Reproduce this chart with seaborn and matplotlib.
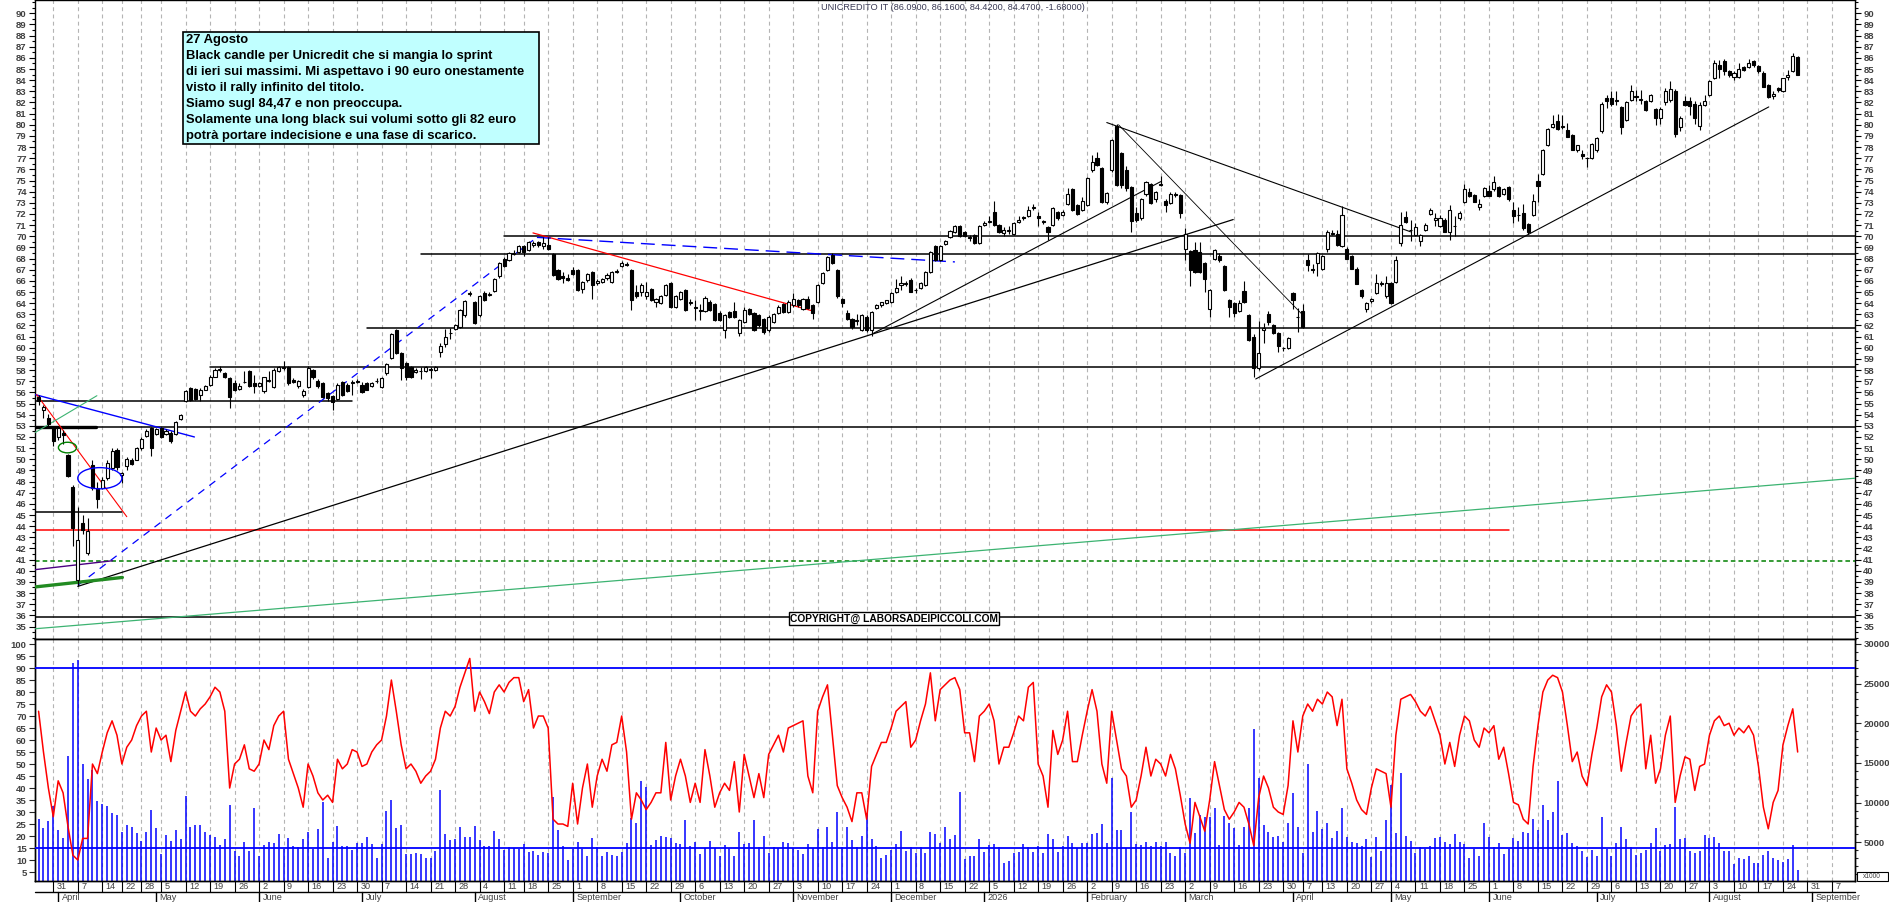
import numpy as np
import pandas as pd
import matplotlib
matplotlib.use("Agg")
import matplotlib.pyplot as plt
import matplotlib.transforms as mtransforms
from matplotlib.patches import Ellipse, Rectangle
from matplotlib.ticker import MultipleLocator
import seaborn as sns

# testi del grafico
TITLE = "UNICREDITO IT (86.0900, 86.1600, 84.4200, 84.4700, -1.68000)"
NOTE_LINES = [
    "27 Agosto",
    "Black candle per Unicredit che si mangia lo sprint",
    "di ieri sui massimi. Mi aspettavo i 90 euro onestamente",
    "visto il rally infinito del titolo.",
    "Siamo sugl 84,47 e non preoccupa.",
    "Solamente una long black sui volumi sotto gli 82 euro",
    "potrà portare indecisione e una fase di scarico.",
]
COPYRIGHT = "COPYRIGHT@ LABORSADEIPICCOLI.COM"

# calendario di borsa
FIRST_DAY = "2025-03-26"
HOLIDAYS = ["2025-04-18", "2025-04-21", "2025-05-01", "2025-08-15", "2025-12-24",
            "2025-12-25", "2025-12-26", "2025-12-31", "2026-01-01", "2026-04-03",
            "2026-04-06", "2026-05-01"]
SKIP_WEEKS = ["2025-12-29"]
MONTH_LABELS = {1: "2026", 2: "February", 3: "March", 4: "April", 5: "May", 6: "June",
                7: "July", 8: "August", 9: "September", 10: "October", 11: "November",
                12: "December"}

# OHLC giornalieri (una riga = una settimana)
opens = [
    55.6, 54.4, 53.7,
    52.9, 52.0, 52.4, 50.4, 47.5,
    39.2, 44.3, 41.6, 49.5, 47.4,
    47.4, 48.3, 49.2, 50.8,
    48.6, 49.4, 49.9, 49.9,
    51.0, 52.1, 52.8, 52.3,
    52.8, 52.3, 52.4, 52.3, 53.6,
    55.2, 56.4, 56.3, 55.8, 56.2,
    56.7, 57.4, 58.0, 57.7, 57.3,
    56.8, 56.3, 56.9, 57.9, 56.8,
    56.6, 56.1, 57.1, 56.5, 57.9,
    58.3, 58.3, 57.1, 56.6, 55.8,
    56.5, 58.0, 57.0, 56.8, 55.9,
    55.7, 55.4, 56.9, 56.7, 56.8,
    57.0, 56.7, 56.8, 56.6, 57.0,
    56.5, 57.7, 59.1, 61.6, 59.5,
    58.6, 58.3, 57.8, 57.9, 57.9,
    58.0, 58.0, 59.6, 60.3, 61.3,
    61.7, 61.9, 62.9, 64.8, 64.1,
    62.9, 64.9, 64.7, 65.1, 66.4,
    68.0, 67.9, 68.4, 68.6,
    69.1, 68.8, 69.2, 69.5, 69.1,
    69.2, 68.4, 67.0, 66.4, 66.3,
    67.0, 67.0, 65.3, 66.1, 66.8,
    65.8, 65.9, 66.3, 65.9, 66.8,
    67.3, 67.5, 67.0, 65.0, 65.0,
    64.6, 65.3, 64.1, 64.0, 64.7,
    65.8, 63.7, 64.4, 65.2, 64.0,
    63.7, 63.4, 63.3, 64.1, 63.9,
    63.1, 61.6, 63.2, 63.3, 61.3,
    62.3, 63.5, 63.1, 62.9, 62.6,
    61.6, 62.3, 63.1, 63.9, 63.2,
    63.8, 64.3, 63.5, 64.4, 63.8,
    64.1, 65.8, 67.0, 68.3, 67.0,
    64.4, 63.1, 62.6, 62.4, 61.6,
    62.8, 61.6, 63.6, 63.8, 64.0,
    64.1, 65.0, 65.6, 65.7, 66.1,
    65.2, 65.4, 65.6, 66.8, 69.1,
    67.9, 69.3, 69.9, 70.4, 70.9,
    70.4, 69.9,
    70.1, 69.4, 71.0,
    71.3, 72.2, 71.0, 70.3, 70.5,
    70.2, 71.3, 71.7, 71.8, 72.5,
    71.8, 71.4, 70.8, 71.0, 72.2,
    71.9, 72.9, 74.2, 72.8, 72.4,
    72.8, 75.9, 77.0, 76.1, 73.1,
    75.9, 79.9, 77.5, 75.9, 74.4,
    72.1, 71.6, 73.8, 74.7, 73.3,
    74.6, 73.2, 73.0, 73.8, 73.7,
    68.9, 68.7, 68.8, 68.6, 67.6,
    63.5, 68.0, 68.2, 67.3, 64.3,
    64.0, 63.3, 65.1, 62.9, 61.0,
    58.2, 61.6, 63.0, 62.0, 61.3,
    60.0, 60.0, 64.9, 62.8,
    63.3, 67.9, 67.1, 67.6,
    67.1, 68.9, 70.3, 70.2, 69.1,
    68.9, 68.2, 67.1, 65.2, 63.5,
    64.2, 64.9, 65.8, 64.6,
    65.8, 65.9, 69.4, 71.7, 70.6,
    70.1, 69.6, 70.6, 72.0, 71.5,
    70.9, 71.5, 70.4, 70.9, 71.6,
    73.1, 74.0, 73.7, 72.6, 73.6,
    74.1, 74.2, 74.4, 73.8, 74.4,
    72.4, 71.9, 72.1, 71.1, 71.9,
    75.0, 75.6, 78.2, 79.8, 80.3,
    79.8, 79.5, 79.1, 77.7, 77.4,
    77.0, 77.0, 77.7, 79.4, 82.4,
    82.4, 82.1, 81.6, 80.4, 82.2,
    82.6, 82.2, 82.1, 82.1, 81.4,
    80.6, 82.0, 82.2, 83.0, 79.8,
    82.1, 82.1, 81.9, 79.9, 81.8,
    82.7, 84.2, 85.4, 85.7, 84.8,
    84.3, 84.3, 85.2, 85.2, 85.7,
    85.3, 84.6, 83.6, 82.6, 83.3,
    83.0, 84.3, 84.8, 86.09,
]
highs = [
    55.8, 54.9, 54.1,
    53.0, 52.9, 52.6, 50.5, 47.7,
    45.7, 45.0, 44.7, 49.9, 48.0,
    48.4, 49.9, 51.0, 51.0,
    48.9, 50.2, 50.1, 51.1,
    52.0, 52.7, 52.9, 52.8,
    52.9, 52.7, 52.5, 53.4, 54.1,
    56.2, 56.5, 56.4, 56.4, 56.7,
    57.6, 58.2, 58.4, 57.8, 57.4,
    57.1, 56.8, 57.9, 58.0, 57.6,
    56.9, 57.4, 57.9, 58.2, 58.4,
    58.8, 58.4, 57.3, 57.1, 56.3,
    58.4, 58.1, 57.2, 56.9, 56.0,
    55.8, 56.8, 57.0, 56.8, 57.1,
    57.2, 56.9, 56.9, 56.9, 57.3,
    57.4, 58.6, 61.3, 61.7, 59.6,
    58.7, 58.4, 58.2, 58.3, 58.4,
    58.3, 58.4, 60.4, 61.7, 61.8,
    62.1, 63.5, 64.3, 65.1, 64.2,
    64.7, 65.1, 65.0, 66.3, 67.7,
    68.1, 68.6, 68.8, 69.2,
    69.2, 69.6, 69.6, 69.6, 69.9,
    69.9, 68.5, 67.1, 66.8, 66.6,
    67.2, 67.1, 66.0, 66.7, 66.9,
    66.2, 66.3, 66.7, 66.9, 67.1,
    67.8, 67.7, 67.1, 65.6, 65.8,
    65.9, 65.4, 64.5, 64.7, 65.7,
    65.9, 64.7, 65.1, 65.3, 64.4,
    64.3, 63.9, 64.6, 64.3, 64.0,
    63.3, 63.0, 63.3, 64.1, 62.6,
    63.7, 63.6, 63.2, 63.0, 62.7,
    62.9, 63.1, 63.8, 64.0, 64.3,
    64.9, 64.4, 64.5, 64.6, 63.9,
    65.7, 66.8, 68.2, 68.5, 67.1,
    64.5, 63.4, 62.7, 63.0, 63.0,
    62.9, 63.3, 63.9, 64.1, 64.3,
    65.0, 66.2, 66.4, 66.0, 66.3,
    65.4, 65.9, 66.9, 68.7, 69.2,
    69.2, 69.7, 70.6, 71.0, 71.0,
    70.5, 70.1,
    70.2, 71.0, 71.4,
    71.8, 73.2, 71.1, 70.8, 70.9,
    71.3, 71.8, 71.8, 72.7, 72.9,
    72.2, 71.5, 70.9, 72.6, 72.3,
    72.4, 74.3, 74.3, 72.9, 73.5,
    75.3, 77.3, 77.6, 76.2, 74.0,
    78.7, 80.1, 77.6, 76.3, 74.5,
    72.6, 73.4, 75.0, 74.8, 74.1,
    75.4, 73.3, 74.0, 74.0, 73.8,
    70.7, 68.8, 69.5, 69.5, 67.7,
    65.3, 68.9, 68.5, 67.4, 64.4,
    64.1, 64.3, 66.0, 63.0, 61.2,
    62.4, 62.2, 63.3, 62.1, 61.4,
    60.1, 61.0, 65.0, 63.6,
    63.9, 68.4, 67.5, 68.6,
    68.3, 70.6, 70.6, 70.6, 72.7,
    69.0, 68.3, 67.2, 65.3, 64.1,
    64.5, 66.6, 66.0, 66.4,
    65.9, 68.2, 72.2, 72.3, 71.5,
    71.2, 70.2, 71.2, 72.5, 72.1,
    71.9, 71.6, 72.8, 71.8, 72.3,
    74.7, 74.3, 73.8, 73.3, 74.4,
    74.6, 75.4, 74.5, 74.3, 74.5,
    73.1, 72.6, 72.9, 71.2, 73.8,
    75.6, 77.8, 79.7, 80.9, 81.0,
    80.9, 80.2, 79.2, 78.2, 77.7,
    77.1, 78.4, 78.9, 82.0, 82.7,
    83.0, 83.0, 81.7, 82.1, 83.6,
    83.1, 83.1, 82.2, 82.8, 81.5,
    81.6, 83.3, 83.9, 83.2, 80.8,
    82.6, 82.5, 82.1, 82.0, 82.7,
    84.0, 85.8, 85.8, 85.9, 84.9,
    84.8, 85.5, 85.3, 85.9, 85.8,
    85.4, 84.8, 83.7, 83.0, 83.4,
    84.2, 84.9, 86.4, 86.16,
]
lows = [
    54.9, 53.7, 53.0,
    51.2, 51.7, 51.4, 48.4, 42.2,
    38.6, 43.3, 41.4, 47.2, 45.6,
    47.3, 48.1, 49.0, 49.0,
    47.9, 49.0, 49.5, 49.9,
    50.8, 52.0, 50.3, 52.2,
    51.9, 52.2, 51.5, 52.2, 53.5,
    55.1, 55.2, 55.3, 55.2, 56.2,
    56.6, 57.4, 57.8, 57.3, 54.6,
    56.1, 56.2, 56.8, 56.5, 55.9,
    56.5, 55.9, 56.9, 56.4, 57.8,
    58.0, 56.7, 56.8, 56.4, 55.6,
    56.4, 57.2, 56.4, 55.5, 55.2,
    54.4, 55.3, 55.7, 56.0, 55.8,
    56.8, 55.9, 56.2, 56.5, 56.8,
    56.4, 57.6, 59.0, 59.4, 57.1,
    57.1, 57.3, 57.7, 57.2, 57.8,
    57.3, 57.9, 59.2, 60.1, 60.8,
    61.6, 61.8, 62.8, 64.6, 62.1,
    62.8, 64.2, 64.6, 65.0, 66.3,
    67.2, 67.8, 68.3, 68.5,
    68.2, 68.7, 69.0, 69.0, 68.9,
    68.8, 66.4, 66.1, 65.8, 66.0,
    66.5, 65.1, 64.9, 65.9, 64.4,
    65.6, 65.8, 66.1, 65.8, 66.7,
    67.2, 67.3, 63.4, 64.5, 64.6,
    64.4, 64.2, 63.7, 63.9, 64.6,
    63.6, 63.6, 64.3, 63.3, 63.8,
    62.5, 62.5, 63.2, 63.3, 62.4,
    62.4, 60.9, 62.7, 62.7, 61.1,
    62.2, 62.9, 61.5, 61.9, 61.2,
    61.4, 62.2, 63.0, 63.1, 63.1,
    63.7, 63.7, 63.4, 63.5, 62.6,
    64.0, 65.7, 66.9, 67.5, 64.5,
    63.7, 62.5, 61.7, 62.0, 61.5,
    61.4, 61.1, 63.5, 63.7, 63.9,
    64.0, 64.9, 65.2, 65.5, 65.0,
    64.9, 65.3, 65.5, 66.7, 67.8,
    67.8, 69.2, 69.8, 70.3, 69.9,
    69.9, 69.6,
    69.3, 69.3, 70.9,
    71.2, 70.9, 70.3, 70.0, 70.2,
    70.1, 71.2, 71.5, 71.7, 72.4,
    70.9, 71.1, 69.7, 70.9, 71.5,
    71.8, 72.8, 72.3, 71.9, 72.3,
    72.7, 75.8, 76.3, 73.0, 72.9,
    75.8, 74.5, 74.3, 74.1, 70.4,
    71.3, 71.5, 73.6, 72.9, 73.1,
    74.5, 72.2, 72.9, 73.5, 71.6,
    67.9, 65.5, 66.7, 66.7, 65.0,
    62.8, 67.9, 67.7, 65.1, 62.8,
    62.8, 63.2, 64.0, 60.6, 57.4,
    58.0, 60.4, 62.0, 61.2, 59.6,
    59.7, 59.9, 63.5, 61.4,
    61.8, 66.9, 66.7, 66.4,
    67.0, 68.6, 70.1, 69.1, 69.0,
    68.0, 67.1, 65.7, 64.5, 63.2,
    64.0, 64.8, 65.5, 64.5,
    63.9, 65.8, 69.1, 71.2, 69.6,
    70.0, 69.1, 70.5, 71.9, 70.9,
    70.8, 70.4, 69.7, 70.0, 71.5,
    73.0, 73.5, 73.1, 72.4, 73.5,
    73.6, 74.1, 73.5, 73.7, 73.2,
    71.2, 71.4, 70.6, 70.2, 71.8,
    73.1, 75.5, 78.1, 79.7, 79.5,
    79.6, 78.9, 77.7, 77.6, 76.9,
    76.2, 76.9, 77.6, 79.3, 81.5,
    81.7, 81.8, 79.2, 80.3, 82.1,
    82.1, 81.9, 81.2, 82.0, 80.0,
    80.1, 81.8, 82.0, 78.9, 79.4,
    81.7, 80.9, 80.1, 79.5, 81.7,
    82.6, 84.1, 84.2, 84.5, 84.3,
    84.0, 84.2, 84.8, 85.1, 85.2,
    84.6, 83.4, 82.4, 82.3, 82.9,
    82.9, 84.0, 84.7, 84.42,
]
closes = [
    55.2, 54.7, 53.2,
    51.6, 52.8, 52.2, 48.5, 43.8,
    42.8, 43.7, 43.6, 47.4, 46.4,
    48.1, 49.7, 50.7, 49.3,
    48.8, 50.0, 49.6, 51.0,
    51.8, 52.5, 51.0, 52.7,
    52.0, 52.5, 51.6, 53.3, 54.0,
    56.1, 55.3, 55.4, 56.2, 56.6,
    57.4, 58.0, 58.1, 57.4, 55.6,
    56.2, 56.6, 56.9, 56.6, 56.6,
    56.8, 57.4, 57.0, 58.0, 58.3,
    58.2, 56.8, 56.9, 57.0, 56.1,
    58.2, 57.4, 56.6, 55.6, 55.5,
    55.1, 56.7, 55.8, 56.1, 56.9,
    56.9, 56.0, 56.2, 56.8, 57.0,
    57.3, 58.5, 61.2, 59.5, 58.2,
    57.4, 57.4, 58.0, 57.9, 58.3,
    58.1, 58.3, 60.2, 61.0, 61.3,
    62.0, 63.4, 64.2, 64.9, 62.2,
    64.6, 64.3, 64.8, 66.2, 67.6,
    67.3, 68.5, 68.5, 69.1,
    68.6, 69.5, 69.4, 69.2, 69.4,
    68.9, 66.5, 66.2, 66.3, 66.1,
    66.6, 65.2, 65.9, 66.6, 65.6,
    66.0, 66.2, 66.5, 66.8, 66.9,
    67.6, 67.4, 64.3, 64.6, 65.6,
    65.0, 64.3, 64.4, 64.6, 65.6,
    63.7, 64.6, 65.0, 63.4, 64.1,
    63.6, 63.3, 64.5, 63.4, 62.5,
    62.5, 62.9, 62.8, 62.8, 62.5,
    63.4, 63.0, 61.6, 62.0, 61.4,
    62.8, 63.0, 63.7, 63.2, 64.1,
    64.4, 63.8, 64.4, 63.6, 63.1,
    65.6, 66.7, 68.1, 67.6, 64.6,
    64.0, 62.6, 61.9, 62.5, 62.9,
    61.6, 63.2, 63.8, 64.1, 64.3,
    64.9, 65.4, 65.8, 65.8, 65.0,
    65.2, 65.8, 66.8, 68.6, 67.9,
    69.1, 69.6, 70.5, 70.9, 70.0,
    70.0, 69.8,
    69.4, 70.9, 71.2,
    71.4, 71.0, 70.4, 70.6, 70.6,
    71.2, 71.5, 71.6, 72.4, 72.6,
    71.6, 71.3, 70.4, 72.5, 71.6,
    72.2, 73.8, 72.4, 72.0, 73.2,
    75.2, 76.7, 76.4, 73.1, 73.9,
    78.6, 74.6, 74.6, 74.3, 71.4,
    71.5, 73.3, 74.9, 73.0, 74.0,
    74.7, 72.8, 73.8, 73.7, 72.1,
    70.2, 67.0, 66.8, 66.8, 66.2,
    65.2, 68.8, 67.9, 65.2, 63.7,
    63.1, 64.0, 64.1, 60.7, 58.2,
    59.5, 61.8, 62.3, 61.3, 60.2,
    60.0, 60.9, 64.3, 62.8,
    61.9, 67.4, 67.0, 68.5,
    68.2, 70.4, 70.2, 69.2, 71.9,
    68.0, 67.1, 65.7, 64.6, 64.0,
    64.4, 65.8, 65.7, 65.8,
    64.0, 67.9, 71.0, 71.3, 70.6,
    70.8, 70.1, 71.0, 72.4, 71.6,
    71.6, 70.4, 72.4, 70.9, 72.1,
    74.2, 73.6, 73.1, 72.9, 74.3,
    73.6, 74.9, 73.6, 74.2, 73.3,
    71.8, 71.9, 70.7, 70.4, 73.2,
    74.5, 77.7, 79.6, 80.1, 79.6,
    79.9, 78.9, 77.7, 78.2, 77.2,
    77.0, 78.3, 78.8, 81.9, 82.1,
    81.9, 82.2, 79.8, 82.0, 83.0,
    82.5, 82.3, 81.3, 82.7, 80.6,
    81.4, 83.0, 83.2, 79.2, 80.6,
    81.8, 81.7, 80.6, 81.8, 82.1,
    83.9, 85.5, 85.0, 84.8, 84.5,
    84.6, 85.0, 84.9, 85.5, 85.4,
    84.8, 83.4, 82.5, 82.8, 83.1,
    84.2, 84.5, 86.15, 84.47,
]
# volumi in migliaia di pezzi
volumes = [
    7938, 6846, 7686,
    9576, 6500, 5586, 15918, 27600,
    28000, 14868, 13000, 14112, 10206,
    9828, 9576, 8736, 8442,
    6342, 7182, 6972, 6216,
    5166, 6342, 9072, 6846,
    3528, 5922, 5208, 6552, 5418,
    10836, 6972, 7182, 7182, 6342,
    5922, 5712, 4662, 5418, 9702,
    3906, 3276, 5040, 3906, 9324,
    3276, 4620, 5040, 4872, 6048,
    4116, 5544, 4536, 4368, 5418,
    6300, 4158, 6636, 10080, 2982,
    5000, 7056, 4536, 4500, 4032,
    4872, 4956, 5712, 4788, 2982,
    4788, 8946, 10332, 6846, 7182,
    3570, 3570, 3696, 3570, 2982,
    2982, 3906, 11592, 6006, 5334,
    5460, 6930, 5670, 5670, 7056,
    5334, 4536, 4536, 6426, 5410,
    4032, 4452, 4242, 4158,
    4788, 3822, 3948, 3402, 3780,
    3612, 10752, 6552, 4536, 2772,
    4116, 5082, 4158, 3276, 5502,
    4368, 3276, 3822, 3402, 3276,
    3822, 4872, 8022, 7476, 12726,
    12012, 4662, 5292, 5796, 5628,
    5586, 4872, 4788, 7812, 4536,
    5082, 3486, 4242, 5166, 4242,
    3276, 4662, 4242, 3276, 6300,
    4788, 4872, 7812, 4452, 5796,
    3612, 4452, 4242, 5082, 4872,
    4242, 4032, 3486, 4788, 4242,
    6678, 4452, 6888, 5040, 8778,
    4452, 6972, 5292, 4452, 5796,
    8652, 5376, 4536, 3066, 3402,
    4032, 4788, 6426, 3948, 4452,
    3612, 4452, 3612, 6300, 6006,
    4872, 6888, 5376, 5922, 11382,
    2898, 3276,
    3276, 5376, 3822,
    4662, 4788, 4368, 2436, 2688,
    3612, 3822, 4788, 4368, 3822,
    4536, 3612, 6048, 5418, 3738,
    4536, 5796, 4956, 4242, 4956,
    4872, 6006, 6216, 7308, 4956,
    13062, 6552, 6552, 4242, 8862,
    4788, 4662, 5082, 4536, 5082,
    4536, 5082, 3612, 3276, 4368,
    3612, 10626, 6216, 8442, 8232,
    8232, 9282, 4662, 8316, 7476,
    6846, 4662, 6972, 9282, 19236,
    13146, 7182, 6258, 5712, 5838,
    5082, 7476, 11172, 6972,
    3612, 14868, 6342, 8988,
    6636, 7392, 5502, 6468, 9282,
    5628, 4998, 4872, 4536, 5376,
    3108, 5712, 3948, 7812,
    12222, 6132, 13692, 5796, 5208,
    3612, 4368, 4200, 4536, 5544,
    5712, 5082, 4788, 6048, 5082,
    4788, 3066, 4158, 3318, 7476,
    5670, 4368, 4956, 3528, 4158,
    5586, 5208, 6258, 6216, 7938,
    6552, 9702, 7812, 8862, 12768,
    5922, 6132, 4872, 4536, 3906,
    3192, 4032, 3276, 8148, 4158,
    3318, 4956, 6888, 5418, 4368,
    3402, 3612, 4032, 4872, 6762,
    3906, 4662, 4746, 9408, 5418,
    5502, 3906, 3612, 3906, 5964,
    5502, 5628, 4872, 3906, 3906,
    2268, 2982, 2898, 3276, 2436,
    2436, 3402, 3906, 3066, 2772,
    2478, 2898, 4662, 1512,
]
# oscillatore (linea rossa, scala 0-100)
oscillator = [
    72, 55, 40,
    28, 43, 38, 24, 12,
    10, 19, 19, 50, 46,
    55, 63, 68, 62,
    50, 57, 60, 66,
    70, 72, 55, 65,
    60, 62, 51, 64, 72,
    80, 72, 70, 73, 75,
    78, 82, 80, 72, 40,
    50, 52, 58, 48, 47,
    50, 60, 56, 66, 70,
    72, 52, 46, 40, 32,
    50, 45, 38, 35, 37,
    34, 52, 48, 50, 56,
    55, 49, 50, 55, 58,
    60, 70, 85, 72, 58,
    48, 50, 47, 42, 45,
    47, 52, 65, 72, 70,
    74, 82, 88, 94, 72,
    80, 76, 71, 80, 83,
    80, 84, 86, 86,
    76, 81, 65, 70, 70,
    65, 27, 25, 25, 24,
    42, 25, 40, 50, 32,
    45, 52, 47, 58, 59,
    70, 55, 27, 38, 35,
    31, 34, 38, 38, 59,
    35, 45, 52, 45, 34,
    42, 34, 56, 45, 32,
    38, 42, 39, 51, 30,
    54, 45, 36, 46, 36,
    54, 58, 62, 55, 65,
    66, 67, 68, 45, 38,
    72, 78, 83, 62, 41,
    36, 32, 26, 38, 38,
    27, 49, 54, 59, 59,
    65, 72, 74, 76, 57,
    60, 68, 75, 88, 68,
    81, 83, 85, 86, 81,
    63, 63,
    51, 70, 72,
    75, 68, 50, 57, 57,
    63, 70, 68, 82, 84,
    50, 45, 32, 64, 54,
    60, 72, 51, 51, 62,
    72, 81, 72, 50, 42,
    72, 60, 48, 45, 32,
    35, 45, 57, 45, 52,
    50, 45, 54, 48, 37,
    25, 17, 34, 28, 22,
    35, 51, 41, 31, 27,
    30, 34, 32, 25, 16,
    36, 45, 40, 32, 30,
    29, 41, 68, 55,
    70, 75, 72, 77,
    75, 80, 78, 66, 77,
    48, 42, 35, 31, 29,
    40, 48, 47, 46,
    32, 62, 77, 78, 79,
    76, 72, 70, 74, 68,
    62, 50, 59, 49, 62,
    70, 68, 60, 57, 65,
    63, 66, 52, 57, 46,
    34, 33, 27, 25, 49,
    66, 80, 85, 87, 86,
    80, 66, 51, 55, 45,
    41, 54, 65, 78, 83,
    80, 66, 47, 59, 70,
    73, 75, 48, 62, 42,
    48, 62, 70, 34, 45,
    53, 52, 39, 49, 50,
    62, 68, 70, 66, 67,
    62, 65, 63, 66, 62,
    49, 32, 23, 34, 39,
    58, 66, 73, 55,
]

# livelli orizzontali: prezzo, seduta iniziale, seduta finale
h_levels = [70.0, 68.4, 61.8, 58.3, 55.25, 52.9, 45.3, 43.65, 40.9, 35.86]
h_starts = [95, 78, 67, 35, None, None, None, None, None, None]
h_ends = [None, None, None, None, 64, None, 17, 300, None, None]
h_colors = ["black", "black", "black", "black", "black", "black", "black", "red", "#008000", "black"]

# trendline disegnate: (seduta, prezzo) -> (seduta, prezzo)
trend_from = [(8, 38.6), (170.4, 61.3), (218, 80.2), (220.4, 80.0), (248.4, 57.2),
              (100.9, 70.3), (8, 38.7), (101.7, 69.9), (-0.7, 55.8), (-0.4, 55.8),
              (-0.7, 52.4), (-0.7, 40.1), (-0.7, 38.55), (-0.7, 34.8)]
trend_to = [(243.8, 71.5), (229, 74.9), (280, 70.4), (258.3, 62.8), (353.1, 81.6),
            (158, 63.3), (101.7, 69.9), (187, 67.7), (31.8, 52.0), (18, 44.85),
            (11.9, 55.7), (15.1, 40.9), (17.1, 39.4), (370.7, 48.3)]
trend_colors = ["black", "black", "black", "black", "black", "red", "blue", "blue",
                "blue", "red", "mediumseagreen", "indigo", "forestgreen", "mediumseagreen"]
trend_styles = ["-", "-", "-", "-", "-", "-", (0, (6, 5)), (0, (10, 5)), "-", "-", "-", "-", "-", "-"]
trend_widths = [0.9, 0.8, 0.8, 0.6, 0.8, 0.9, 0.9, 1.0, 1.0, 0.8, 0.8, 1.0, 2.4, 0.9]

# ellissi: centro (seduta, prezzo), ampiezza in sedute, altezza in prezzo
ellipse_centers = [(5.9, 51.05), (12.5, 48.3)]
ellipse_sizes = [(3.7, 0.95), (9.0, 1.9)]
ellipse_colors = ["green", "blue"]

W, H = 1890, 902
XMIN, XMAX = -0.73, 370.7
GRID = "#b4b4b4"
LABEL = "#404040"


def rect(x0, y0, x1, y1):
    return [x0 / W, 1 - y1 / H, (x1 - x0) / W, (y1 - y0) / H]


def trading_days():
    days = pd.bdate_range("2025-03-17", "2026-09-30")
    days = days[~days.isin(pd.to_datetime(HOLIDAYS))]
    offset = days.get_loc(pd.Timestamp(FIRST_DAY))
    pos = np.arange(len(days)) - offset
    return days, pos


def draw_candles(ax, x):
    o, h, l, c = (np.array(v, dtype=float) for v in (opens, highs, lows, closes))
    up = c >= o
    ax.vlines(x, l, h, color="black", lw=0.8, zorder=4)
    ax.bar(x[up], (c - o)[up], bottom=o[up], width=0.64, facecolor="white",
           edgecolor="black", lw=0.8, zorder=5)
    ax.bar(x[~up], (o - c)[~up], bottom=c[~up], width=0.64, facecolor="black",
           edgecolor="black", lw=0.8, zorder=5)


def main():
    sns.set_style("white")
    plt.rcParams["font.family"] = ["Liberation Sans", "DejaVu Sans"]

    days, pos = trading_days()
    x = np.arange(len(closes))

    fig = plt.figure(figsize=(W / 100, H / 100), dpi=100)
    ax = fig.add_axes(rect(35, 0, 1855, 639))
    ax_low = fig.add_axes(rect(35, 639, 1855, 881), sharex=ax)
    ax_osc = ax_low.twinx()

    # griglia settimanale (prima seduta di ogni settimana)
    weeks = days.to_period("W")
    first_of_week = np.r_[True, weeks[1:] != weeks[:-1]]
    skip = pd.to_datetime(SKIP_WEEKS)
    week_pos = [(p, d) for p, d, f in zip(pos, days, first_of_week)
                if f and XMIN < p < XMAX and d not in skip]
    for p, _ in week_pos:
        for a in (ax, ax_low):
            a.axvline(p, color=GRID, lw=0.8, ls=(0, (3.5, 3)), zorder=0)

    # pannello prezzi
    for lvl, s, e, col in zip(h_levels, h_starts, h_ends, h_colors):
        s = XMIN if s is None else s
        e = XMAX if e is None else e
        ls = (0, (3, 2)) if col == "#008000" else "-"
        ax.plot([s, e], [lvl, lvl], color=col, lw=1.1, ls=ls, zorder=2)
    ax.plot([XMIN, 11.8], [52.9, 52.9], color="black", lw=2.4, zorder=2)
    for (x0, y0), (x1, y1), col, ls, lw in zip(trend_from, trend_to, trend_colors,
                                               trend_styles, trend_widths):
        ax.plot([x0, x1], [y0, y1], color=col, ls=ls, lw=lw, zorder=3)
    for (cx, cy), (ew, eh), col in zip(ellipse_centers, ellipse_sizes, ellipse_colors):
        ax.add_patch(Ellipse((cx, cy), ew, eh, facecolor="none", edgecolor=col, lw=1.0, zorder=6))

    draw_candles(ax, x)

    ax.set_xlim(XMIN, XMAX)
    ax.set_ylim(33.88, 91.19)
    ax.set_yticks(np.arange(35, 91))
    ax.yaxis.set_minor_locator(MultipleLocator(0.5))
    ax.tick_params(axis="y", which="both", left=True, right=True, labelleft=True,
                   labelright=True, direction="out", labelsize=6.8, labelcolor=LABEL,
                   pad=1.5, color="black", width=0.8)
    ax.tick_params(axis="y", which="major", length=4.5)
    ax.tick_params(axis="y", which="minor", length=2.5)
    ax.tick_params(axis="x", which="both", bottom=False, labelbottom=False)
    for lab in ax.get_yticklabels():
        lab.set_fontweight("bold")

    # pannello volumi + oscillatore
    ax_low.vlines(x, 0, volumes, color="blue", lw=1.1, zorder=2)
    ax_low.set_ylim(120, 30620)
    ax_low.set_yticks(np.arange(5000, 30001, 5000))
    ax_low.yaxis.set_minor_locator(MultipleLocator(1000))
    ax_low.yaxis.tick_right()
    ax_low.tick_params(axis="y", which="both", direction="out", labelsize=6.8,
                       labelcolor=LABEL, pad=1.5, width=0.8)
    ax_low.tick_params(axis="y", which="major", length=4.5)
    ax_low.tick_params(axis="y", which="minor", length=2.5)
    ax_low.tick_params(axis="x", which="both", bottom=False, labelbottom=False)

    osc = pd.DataFrame({"day": x, "value": oscillator})
    sns.lineplot(data=osc, x="day", y="value", ax=ax_osc, color="red", lw=1.1, zorder=4)
    ax_osc.axhline(90, color="blue", lw=1.3, zorder=3)
    ax_osc.axhline(15, color="blue", lw=1.3, zorder=3)
    ax_osc.set_ylim(1.25, 102.1)
    ax_osc.set_yticks(np.arange(5, 101, 5))
    ax_osc.yaxis.tick_left()
    ax_osc.tick_params(axis="y", direction="out", length=4.5, labelsize=6.8,
                       labelcolor=LABEL, pad=1.5, width=0.8)
    ax_osc.set_xlabel("")
    ax_osc.set_ylabel("")
    ax_osc.set_xlim(XMIN, XMAX)
    for a in (ax_low, ax_osc):
        for lab in a.get_yticklabels():
            lab.set_fontweight("bold")

    for a in (ax, ax_low, ax_osc):
        for sp in a.spines.values():
            sp.set_color("black")
            sp.set_linewidth(1.0)

    # asse date su due righe
    blend = mtransforms.blended_transform_factory(ax_low.transData, fig.transFigure)
    y_row1_top, y_row1_bot, y_row2_bot = 1 - 881 / H, 1 - 891.5 / H, 0.0
    ax_low.plot([XMIN, XMAX], [y_row1_bot, y_row1_bot], transform=blend, color="black",
                lw=1.0, clip_on=False)
    for p, d in week_pos:
        ax_low.plot([p, p], [y_row1_top, y_row1_bot], transform=blend, color="black",
                    lw=0.8, clip_on=False)
        ax_low.text(p + 0.7, 1 - 886.5 / H, str(d.day), transform=blend, ha="left",
                    va="center", fontsize=6.6, color=LABEL, clip_on=False)
    months = days.to_period("M")
    first_of_month = np.r_[True, months[1:] != months[:-1]]
    for p, d, f in zip(pos, days, first_of_month):
        if f and XMIN < p < XMAX:
            ax_low.plot([p, p], [y_row1_bot, y_row2_bot], transform=blend, color="black",
                        lw=1.0, clip_on=False)
            ax_low.text(p + 0.7, 1 - 897 / H, MONTH_LABELS[d.month], transform=blend,
                        ha="left", va="center", fontsize=6.6, color=LABEL, clip_on=False)

    # riquadro x1000
    fig.add_artist(Rectangle((1857 / W, 1 - 881 / H), 31 / W, 9 / H, transform=fig.transFigure,
                             facecolor="white", edgecolor="black", lw=0.8))
    fig.text(1872 / W, 1 - 876.5 / H, "x1000", ha="center", va="center", fontsize=4.8,
             color=LABEL)

    # titolo
    fig.text(821 / W, 1 - 7.5 / H, TITLE, ha="left", va="center", fontsize=6.6,
             color="#3a3a55")

    # commento
    fig.add_artist(Rectangle((183 / W, 1 - 144 / H), 356 / W, 112 / H,
                             transform=fig.transFigure, facecolor="#c0ffff",
                             edgecolor="black", lw=1.2, zorder=8))
    for k, line in enumerate(NOTE_LINES):
        fig.text(186 / W, 1 - (40.5 + 16 * k) / H, line, ha="left", va="center",
                 fontsize=9.4, fontweight="bold", color="black", zorder=9)

    # copyright
    fig.text(894 / W, 1 - 618.5 / H, COPYRIGHT, ha="center", va="center", fontsize=7.4,
             fontweight="bold", color="black", zorder=9,
             bbox=dict(boxstyle="square,pad=0.15", facecolor="white", edgecolor="black", lw=1.0))

    fig.savefig("out.png", dpi=100)
    plt.close(fig)


if __name__ == "__main__":
    main()
